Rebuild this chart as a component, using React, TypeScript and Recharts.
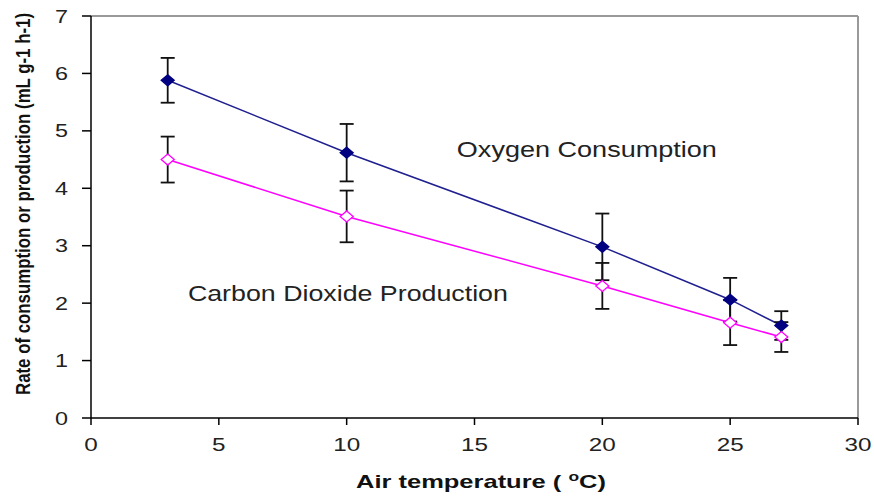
import React from 'react';
import {
  ComposedChart,
  Line,
  XAxis,
  YAxis,
  ErrorBar,
  ReferenceLine,
  ReferenceDot,
  Label,
} from 'recharts';

// ---- data ----
const temperatures = [3, 10, 20, 25, 27];
const oxygenConsumption = [5.88, 4.62, 2.98, 2.06, 1.61];
const oxygenError = [0.39, 0.5, 0.58, 0.38, 0.25];
const co2Production = [4.5, 3.51, 2.3, 1.66, 1.41];
const co2Error = [0.4, 0.45, 0.4, 0.39, 0.26];
const xTicks = [0, 5, 10, 15, 20, 25, 30];
const yTicks = [0, 1, 2, 3, 4, 5, 6, 7];

const oxygenLabel = 'Oxygen Consumption';
const co2Label = 'Carbon Dioxide Production';
// annotation anchors in data units (left end of text, baseline)
const oxygenLabelAt = [14.31, 4.54];
const co2LabelAt = [3.79, 2.04];

const data = temperatures.map((t, i) => ({
  t,
  o2: oxygenConsumption[i],
  o2Err: oxygenError[i],
  co2: co2Production[i],
  co2Err: co2Error[i],
}));

const FONT = '"Liberation Sans", Arial, sans-serif';

const makeDiamond = (fill: string, stroke: string) => (props: any) => {
  const { cx, cy, index } = props;
  if (cx == null || cy == null) return <g key={index} />;
  return (
    <polygon
      key={index}
      points={`${cx},${cy - 5.5} ${cx + 6.5},${cy} ${cx},${cy + 5.5} ${cx - 6.5},${cy}`}
      fill={fill}
      stroke={stroke}
      strokeWidth={1.3}
    />
  );
};

const XTick = (props: any) => {
  const { x, y, payload } = props;
  const s = String(payload.value);
  return (
    <text
      x={x}
      y={y + 24}
      textAnchor="middle"
      fontFamily={FONT}
      fontSize={18}
      fill="#222"
      textLength={s.length * 13.5}
      lengthAdjust="spacingAndGlyphs"
    >
      {s}
    </text>
  );
};

const YTick = (props: any) => {
  const { x, y, payload } = props;
  const s = String(payload.value);
  return (
    <text
      x={x - 12}
      y={y + 6.5}
      textAnchor="end"
      fontFamily={FONT}
      fontSize={18}
      fill="#222"
      textLength={s.length * 13}
      lengthAdjust="spacingAndGlyphs"
    >
      {s}
    </text>
  );
};

const XTitle = (props: any) => {
  const vb = props.viewBox || {};
  const cx = vb.x + vb.width / 2 + 6.5;
  return (
    <text
      x={cx}
      y={vb.y + 70}
      textAnchor="middle"
      fontFamily={FONT}
      fontWeight="bold"
      fontSize={19}
      fill="#111"
      textLength={250}
      lengthAdjust="spacingAndGlyphs"
    >
      {'Air temperature ( '}
      <tspan fontSize={13} dy={-7}>o</tspan>
      <tspan dy={7}>C)</tspan>
    </text>
  );
};

const YTitle = (props: any) => {
  const vb = props.viewBox || {};
  const cx = 22;
  const cy = vb.y + 188;
  return (
    <text
      x={cx}
      y={cy}
      transform={`rotate(-90 ${cx} ${cy})`}
      textAnchor="middle"
      dominantBaseline="central"
      fontFamily={FONT}
      fontWeight="bold"
      fontSize={21}
      fill="#111"
      textLength={382}
      lengthAdjust="spacingAndGlyphs"
    >
      Rate of consumption or production (mL g-1 h-1)
    </text>
  );
};

const makeAnnotation = (text: string, len: number) => (props: any) => {
  const vb = props.viewBox || {};
  const x = vb.x + (vb.width || 0) / 2;
  const y = vb.y + (vb.height || 0) / 2;
  return (
    <text
      x={x}
      y={y}
      textAnchor="start"
      fontFamily={FONT}
      fontSize={22}
      fill="#222"
      textLength={len}
      lengthAdjust="spacingAndGlyphs"
    >
      {text}
    </text>
  );
};

export default function App() {
  return (
    <div style={{ position: 'absolute', left: 0, top: 0, background: '#fff' }}>
      <ComposedChart
        width={874}
        height={496}
        data={data}
        margin={{ top: 16, right: 16, left: 0, bottom: 0 }}
      >
        <ReferenceLine y={7} stroke="#999" strokeWidth={2} ifOverflow="visible" />
        <ReferenceLine x={30} stroke="#999" strokeWidth={2} ifOverflow="visible" />
        <XAxis
          dataKey="t"
          type="number"
          domain={[0, 30]}
          ticks={xTicks}
          interval={0}
          height={78}
          tickSize={7}
          stroke="#000"
          axisLine={{ stroke: '#000', strokeWidth: 1.5 }}
          tickLine={{ stroke: '#000', strokeWidth: 1.5 }}
          tick={<XTick />}
        >
          <Label content={<XTitle />} />
        </XAxis>
        <YAxis
          type="number"
          domain={[0, 7]}
          ticks={yTicks}
          interval={0}
          width={91}
          tickSize={9}
          stroke="#000"
          axisLine={{ stroke: '#000', strokeWidth: 1.5 }}
          tickLine={{ stroke: '#000', strokeWidth: 1.5 }}
          tick={<YTick />}
        >
          <Label content={<YTitle />} />
        </YAxis>
        <Line
          type="linear"
          dataKey="o2"
          stroke="#1f1f8f"
          strokeWidth={1.5}
          isAnimationActive={false}
          dot={makeDiamond('#000080', '#000080')}
          activeDot={false}
        >
          <ErrorBar dataKey="o2Err" width={7} stroke="#111" strokeWidth={1.8} direction="y" />
        </Line>
        <Line
          type="linear"
          dataKey="co2"
          stroke="#ff00ff"
          strokeWidth={1.5}
          isAnimationActive={false}
          dot={makeDiamond('#ffffff', '#ff00ff')}
          activeDot={false}
        >
          <ErrorBar dataKey="co2Err" width={7} stroke="#111" strokeWidth={1.8} direction="y" />
        </Line>
        <ReferenceDot
          x={oxygenLabelAt[0]}
          y={oxygenLabelAt[1]}
          r={0}
          fill="none"
          stroke="none"
          label={makeAnnotation(oxygenLabel, 260)}
        />
        <ReferenceDot
          x={co2LabelAt[0]}
          y={co2LabelAt[1]}
          r={0}
          fill="none"
          stroke="none"
          label={makeAnnotation(co2Label, 320)}
        />
      </ComposedChart>
    </div>
  );
}
